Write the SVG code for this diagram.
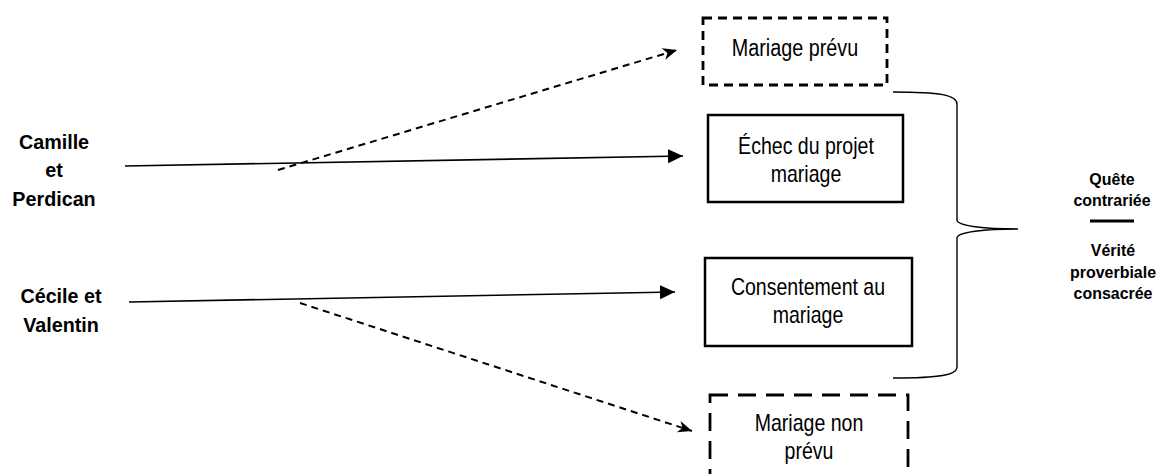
<svg xmlns="http://www.w3.org/2000/svg" width="1161" height="474" viewBox="0 0 1161 474">
<style>
.box{fill:#fff;stroke:#000;stroke-width:2.5}
.dbox{fill:#fff;stroke:#000;stroke-width:2.8;stroke-dasharray:9 6}
.dbox2{fill:#fff;stroke:#000;stroke-width:2.8;stroke-dasharray:18 10}
.bt{font-family:"Liberation Sans",Arial,sans-serif;font-size:23px;fill:#000;text-anchor:middle}
.lt{font-family:"Liberation Sans",Arial,sans-serif;font-size:21px;font-weight:bold;fill:#000;text-anchor:middle}
.rt{font-family:"Liberation Sans",Arial,sans-serif;font-size:17px;font-weight:bold;fill:#000;text-anchor:middle}
.sol{fill:none;stroke:#000;stroke-width:1.6}
.dash{fill:none;stroke:#000;stroke-width:2;stroke-dasharray:7 5}
</style>
<defs>
<marker id="ah" markerUnits="userSpaceOnUse" markerWidth="16" markerHeight="16" refX="15" refY="7" orient="auto" viewBox="0 0 16 16">
<path d="M0,0 L15,7 L0,14 z" fill="#000" stroke="none"/>
</marker>
<marker id="bh" markerUnits="userSpaceOnUse" markerWidth="16" markerHeight="14" refX="14" refY="6" orient="auto" viewBox="0 0 16 14">
<path d="M0,0 L14,6 L0,12 L4,6 z" fill="#000" stroke="none"/>
</marker>
</defs>
<rect width="1161" height="474" fill="#fff"/>
<g id="connectors">
<line class="sol" x1="125" y1="166" x2="683" y2="156" marker-end="url(#ah)"/>
<line class="sol" x1="129" y1="302" x2="675" y2="292" marker-end="url(#ah)"/>
<line class="dash" x1="278" y1="170" x2="677" y2="50" marker-end="url(#bh)"/>
<line class="dash" x1="300" y1="303" x2="692" y2="431" marker-end="url(#bh)"/>
<path class="sol" style="stroke-width:1.4" d="M893,92 C940,92 957,95 957,104 L957,220 C957,226 985,229 1018,229 C985,229 957,232 957,238 L957,367 C957,375 940,378 893,378"/>
</g>
<g id="camille">
<text class="lt" transform="translate(54,149) scale(0.94,1)"><tspan x="0" y="0">Camille</tspan><tspan x="0" y="28">et</tspan><tspan x="0" y="57">Perdican</tspan></text>
</g>
<g id="cecile">
<text class="lt" transform="translate(61,303) scale(0.94,1)"><tspan x="0" y="0">Cécile et</tspan><tspan x="0" y="29">Valentin</tspan></text>
</g>
<g id="mariage-prevu">
<rect class="dbox" x="703" y="18" width="184" height="67"/>
<text class="bt" transform="translate(795,56) scale(0.86,1)">Mariage prévu</text>
</g>
<g id="echec">
<rect class="box" x="708" y="115" width="195" height="87"/>
<text class="bt" transform="translate(806,154) scale(0.85,1)"><tspan x="0" y="0">Échec du projet</tspan><tspan x="0" y="28">mariage</tspan></text>
</g>
<g id="consentement">
<rect class="box" x="705" y="258" width="207" height="88"/>
<text class="bt" transform="translate(808,295) scale(0.85,1)"><tspan x="0" y="0">Consentement au</tspan><tspan x="0" y="28">mariage</tspan></text>
</g>
<g id="mariage-non-prevu">
<rect class="dbox2" x="710" y="395" width="198" height="100"/>
<text class="bt" transform="translate(809,431) scale(0.85,1)"><tspan x="0" y="0">Mariage non</tspan><tspan x="0" y="28">prévu</tspan></text>
</g>
<g id="quete">
<text class="rt" transform="translate(1112,185) scale(0.94,1)"><tspan x="0" y="0">Quête</tspan><tspan x="0" y="21">contrariée</tspan></text>
<line x1="1090" y1="221" x2="1134" y2="221" stroke="#000" stroke-width="3"/>
<text class="rt" transform="translate(1113,256) scale(0.94,1)"><tspan x="0" y="0">Vérité</tspan><tspan x="0" y="22">proverbiale</tspan><tspan x="0" y="43">consacrée</tspan></text>
</g>
</svg>
